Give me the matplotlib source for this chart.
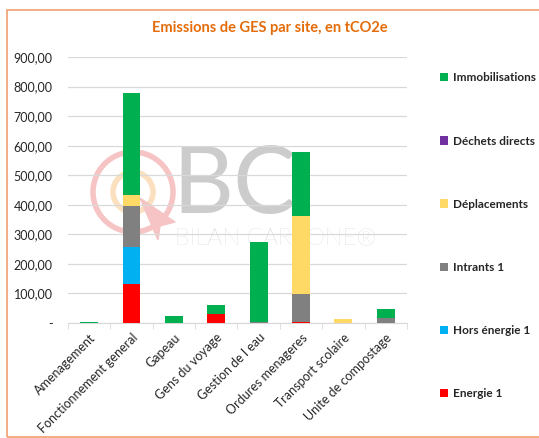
import matplotlib.pyplot as plt
import numpy as np
from matplotlib.patches import Circle, Rectangle, Polygon
from matplotlib.ticker import FuncFormatter, FixedLocator

plt.rcParams['font.family'] = ['Lato', 'DejaVu Sans']

sites = ['Amenagement', 'Fonctionnement general', 'Gapeau', 'Gens du voyage',
         'Gestion de l eau', 'Ordures menageres', 'Transport scolaire',
         'Unite de compostage']

# stack order, bottom to top
energie = [0, 133, 0, 29, 0, 3, 0, 0]
hors_energie = [0, 125, 0, 0, 0, 0, 0, 0]
intrants = [0, 139, 0, 0, 4, 94, 0, 18]
deplacements = [0, 35, 0, 0, 0, 265, 12, 0]
dechets = [0, 0, 0, 0, 0, 0, 0, 0]
immobilisations = [2, 345, 22, 32, 269, 218, 0, 28]

series = [
    ('Energie 1', energie, '#ff0000'),
    ('Hors énergie 1', hors_energie, '#00b0f0'),
    ('Intrants 1', intrants, '#808080'),
    ('Déplacements', deplacements, '#ffd966'),
    ('Déchets directs', dechets, '#7030a0'),
    ('Immobilisations', immobilisations, '#00b050'),
]

fig = plt.figure(figsize=(5.39, 4.38), dpi=100)


def px(x, y):
    # figure pixel (top-left origin) -> inches
    return (x / 100, (438 - y) / 100)


# orange frame
fig.add_artist(Rectangle(px(7, 437), 5.39, 4.27, transform=fig.dpi_scale_trans,
                         fill=False, edgecolor='#f0a070', linewidth=1.2, zorder=-2))

# faint watermark
tr = fig.dpi_scale_trans
fig.add_artist(Circle(px(133, 192), 0.40, transform=tr, fill=False,
                      edgecolor='#f6c4c4', linewidth=4, zorder=-1))
fig.add_artist(Circle(px(133, 192), 0.20, transform=tr, fill=False,
                      edgecolor='#fbe0c0', linewidth=4, zorder=-1))
fig.add_artist(Polygon([px(140, 198), px(175, 222), px(160, 226), px(158, 240)],
                       transform=tr, color='#f6c4c4', zorder=-1))
fig.text(*px(172, 213), 'BC', transform=tr, fontsize=68, color='#cccccc',
         family='Lato', fontweight='normal', zorder=-1)
fig.text(*px(175, 244), 'BILAN CARBONE®', transform=tr, fontsize=17,
         color='#cccccc', family='Lato', fontweight='light', zorder=-1)

ax = fig.add_axes([0.126, 0.2626, 0.629, 0.607])
ax.patch.set_alpha(0)

x = np.arange(len(sites))
bottom = np.zeros(len(sites))
handles = []
for name, vals, color in series:
    h = ax.bar(x, vals, 0.42, bottom=bottom, color=color, label=name, zorder=3)
    handles.append(h)
    bottom += np.array(vals)

ax.set_ylim(0, 900)
ax.set_xlim(-0.5, len(sites) - 0.5)
ax.set_yticks(np.arange(0, 901, 100))
ax.yaxis.set_major_formatter(FuncFormatter(
    lambda v, p: '-' if v == 0 else f'{v:,.2f}'.replace(',', ' ').replace('.', ',')))
ax.grid(axis='y', color='#d9d9d9', linewidth=0.9, zorder=0)
for s in ['top', 'right', 'left']:
    ax.spines[s].set_visible(False)
ax.spines['bottom'].set_color('#d9d9d9')
ax.tick_params(axis='y', length=0, labelsize=9, labelcolor='#262626', pad=11)

ax.set_xticks(x)
ax.set_xticklabels(sites, rotation=45, ha='right', rotation_mode='anchor',
                   fontsize=9, color='#262626')
ax.tick_params(axis='x', length=0, pad=6)
ax.xaxis.set_minor_locator(FixedLocator(np.arange(-0.5, len(sites), 1)))
ax.tick_params(axis='x', which='minor', length=4, color='#d9d9d9', direction='out')

fig.text(0.5, 0.935, 'Emissions de GES par site, en tCO2e', ha='center',
         va='center', fontsize=10.5, fontweight='bold', color='#e46c0a')

leg = fig.legend(handles[::-1], [s[0] for s in series][::-1],
                 loc='upper left', bbox_to_anchor=(0.796, 0.859), frameon=False,
                 handlelength=0.7, handleheight=0.7, handletextpad=0.4,
                 labelspacing=4.42, prop={'size': 8.5, 'weight': 'bold'})
for t in leg.get_texts():
    t.set_color('#262626')

fig.savefig('out.png', dpi=100)
